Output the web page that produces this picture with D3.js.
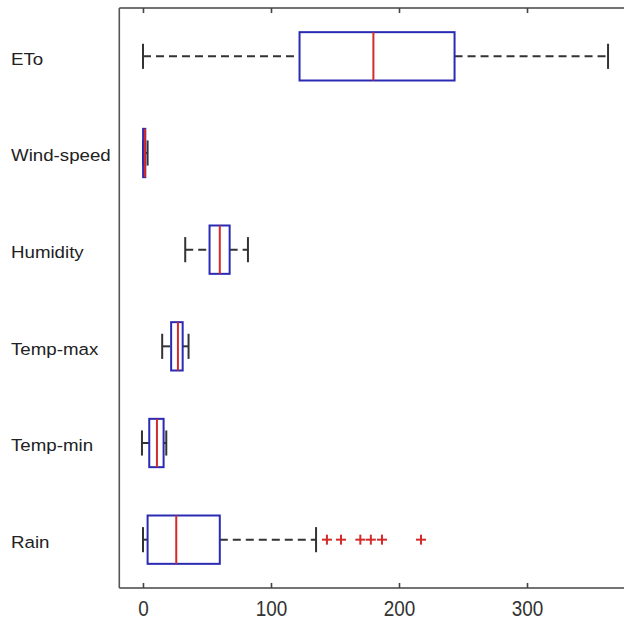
<!DOCTYPE html>
<html><head><meta charset="utf-8">
<script src="https://cdn.jsdelivr.net/npm/d3@7"></script>
<style>body{margin:0;background:#fff}svg{display:block}</style>
</head><body>
<script>
const categories = ["Rain","Temp-min","Temp-max","Humidity","Wind-speed","ETo"];
const whiskerLow  = [0,   -0.8, 15,   33, 0,    0];
const q1          = [3.6,  4.9, 22,   52, 0.1,  122.3];
const median      = [26,  10.9, 27.3, 60, 1.5,  180];
const q3          = [60,  16.1, 31,   67.7, 1.8, 243.4];
const whiskerHigh = [135.2, 18.2, 35.6, 82, 3.6, 363.3];
const rainOutliers = [143.7, 154.7, 169.8, 178, 186.7, 217.2];
const xTicks = [0, 100, 200, 300];

const W = 624, H = 620;
const svg = d3.select("body").append("svg").attr("width", W).attr("height", H);
const x = d3.scaleLinear().domain([-18.5, 388.5]).range([119.3, 640.3]);
const y = d3.scalePoint().domain(categories).range([588, 8]).padding(0.5);
const step = y.step();
const boxH = step * 0.5, capH = step * 0.26;

const blue = "#2a2ab4", red = "#d42a2a", dark = "#333";

// axes frame
const g = svg.append("g");
g.append("line").attr("x1", x.range()[0]).attr("x2", W + 5).attr("y1", 588).attr("y2", 588)
  .attr("stroke", "#444").attr("stroke-width", 1.6);
g.append("line").attr("x1", x.range()[0]).attr("x2", W + 5).attr("y1", 8).attr("y2", 8)
  .attr("stroke", "#444").attr("stroke-width", 1.6);
g.append("line").attr("x1", x.range()[0]).attr("x2", x.range()[0]).attr("y1", 8).attr("y2", 588)
  .attr("stroke", "#555").attr("stroke-width", 1.6);

const axB = d3.axisBottom(x).tickValues(xTicks).tickSizeInner(-5).tickSizeOuter(0).tickPadding(12);
const gb = svg.append("g").attr("transform", "translate(0,588)").call(axB);
gb.select(".domain").remove();
gb.selectAll(".tick line").attr("stroke", "#444").attr("stroke-width", 1.6);
gb.selectAll(".tick text").attr("fill", "#333").attr("font-family", "Liberation Sans, Arial, sans-serif")
  .attr("font-size", 21).attr("dy", "0.71em")
  .attr("transform", "scale(0.9,1.05)").attr("x", function(){ return 0; });

const axT = d3.axisTop(x).tickValues(xTicks).tickSizeInner(-5).tickSizeOuter(0).tickFormat("");
const gt = svg.append("g").attr("transform", "translate(0,8)").call(axT);
gt.select(".domain").remove();
gt.selectAll(".tick line").attr("stroke", "#444").attr("stroke-width", 1.6);

// category labels
svg.append("g").selectAll("text").data(categories).join("text")
  .attr("transform", d => `translate(11,${y(d) + 4}) scale(1.1,1)`)
  .attr("dominant-baseline", "middle")
  .attr("font-family", "Liberation Sans, Arial, sans-serif").attr("font-size", 17)
  .attr("fill", "#222").text(d => d);

// boxes
const data = categories.map((c, i) => ({c, lo: whiskerLow[i], q1: q1[i], med: median[i], q3: q3[i], hi: whiskerHigh[i]}));
const bg = svg.append("g").selectAll("g").data(data).join("g");
// whiskers dashed
bg.append("line").attr("x1", d => x(d.lo)).attr("x2", d => x(d.q1)).attr("y1", d => y(d.c)).attr("y2", d => y(d.c))
  .attr("stroke", dark).attr("stroke-width", 2).attr("stroke-dasharray", "8,5");
bg.append("line").attr("x1", d => x(d.q3)).attr("x2", d => x(d.hi)).attr("y1", d => y(d.c)).attr("y2", d => y(d.c))
  .attr("stroke", dark).attr("stroke-width", 2).attr("stroke-dasharray", "8,5");
// caps
bg.filter(d => d.lo < d.q1).append("line").attr("x1", d => x(d.lo)).attr("x2", d => x(d.lo))
  .attr("y1", d => y(d.c) - capH / 2).attr("y2", d => y(d.c) + capH / 2).attr("stroke", dark).attr("stroke-width", 2);
bg.append("line").attr("x1", d => x(d.hi)).attr("x2", d => x(d.hi))
  .attr("y1", d => y(d.c) - capH / 2).attr("y2", d => y(d.c) + capH / 2).attr("stroke", dark).attr("stroke-width", 2);
// box
bg.append("rect").attr("x", d => x(d.q1)).attr("width", d => x(d.q3) - x(d.q1))
  .attr("y", d => y(d.c) - boxH / 2).attr("height", boxH)
  .attr("fill", "none").attr("stroke", blue).attr("stroke-width", 2);
// median
bg.append("line").attr("x1", d => x(d.med)).attr("x2", d => x(d.med))
  .attr("y1", d => y(d.c) - boxH / 2).attr("y2", d => y(d.c) + boxH / 2).attr("stroke", red).attr("stroke-width", 2);

// outliers
const oy = y("Rain");
const og = svg.append("g").selectAll("g").data(rainOutliers).join("g")
  .attr("transform", d => `translate(${x(d)},${oy})`);
og.append("line").attr("x1", -5).attr("x2", 5).attr("stroke", red).attr("stroke-width", 2);
og.append("line").attr("y1", -5).attr("y2", 5).attr("stroke", red).attr("stroke-width", 2);
</script>
</body></html>
